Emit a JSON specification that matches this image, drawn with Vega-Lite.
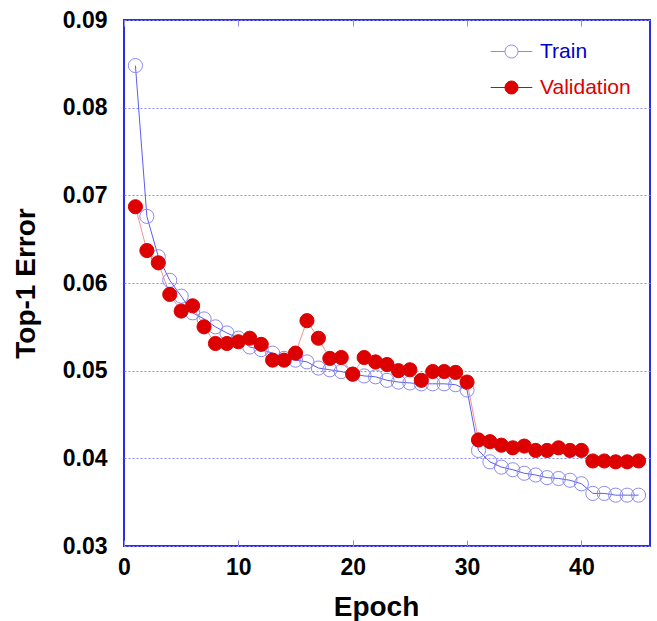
{
  "$schema": "https://vega.github.io/schema/vega-lite/v6.json",
  "autosize": {"type": "none"},
  "padding": {"left": 124, "top": 20, "right": 7, "bottom": 75},
  "width": 526,
  "height": 526,
  "background": "white",
  "config": {
    "view": {"stroke": "#2b2bee", "strokeWidth": 2},
    "font": "Liberation Sans"
  },
  "resolve": {"axis": {"x": "independent"}},
  "data": {"values": [
    {"epoch": 1, "series": "Train", "error": 0.0848},
    {"epoch": 2, "series": "Train", "error": 0.0676},
    {"epoch": 3, "series": "Train", "error": 0.0630},
    {"epoch": 4, "series": "Train", "error": 0.0603},
    {"epoch": 5, "series": "Train", "error": 0.0585},
    {"epoch": 6, "series": "Train", "error": 0.0566},
    {"epoch": 7, "series": "Train", "error": 0.0559},
    {"epoch": 8, "series": "Train", "error": 0.0550},
    {"epoch": 9, "series": "Train", "error": 0.0543},
    {"epoch": 10, "series": "Train", "error": 0.0537},
    {"epoch": 11, "series": "Train", "error": 0.0527},
    {"epoch": 12, "series": "Train", "error": 0.0524},
    {"epoch": 13, "series": "Train", "error": 0.0520},
    {"epoch": 14, "series": "Train", "error": 0.0514},
    {"epoch": 15, "series": "Train", "error": 0.0512},
    {"epoch": 16, "series": "Train", "error": 0.0510},
    {"epoch": 17, "series": "Train", "error": 0.0503},
    {"epoch": 18, "series": "Train", "error": 0.0501},
    {"epoch": 19, "series": "Train", "error": 0.0499},
    {"epoch": 20, "series": "Train", "error": 0.0496},
    {"epoch": 21, "series": "Train", "error": 0.0494},
    {"epoch": 22, "series": "Train", "error": 0.0493},
    {"epoch": 23, "series": "Train", "error": 0.0489},
    {"epoch": 24, "series": "Train", "error": 0.0487},
    {"epoch": 25, "series": "Train", "error": 0.0486},
    {"epoch": 26, "series": "Train", "error": 0.0485},
    {"epoch": 27, "series": "Train", "error": 0.0485},
    {"epoch": 28, "series": "Train", "error": 0.0485},
    {"epoch": 29, "series": "Train", "error": 0.0484},
    {"epoch": 30, "series": "Train", "error": 0.0478},
    {"epoch": 31, "series": "Train", "error": 0.0409},
    {"epoch": 32, "series": "Train", "error": 0.0396},
    {"epoch": 33, "series": "Train", "error": 0.0390},
    {"epoch": 34, "series": "Train", "error": 0.0387},
    {"epoch": 35, "series": "Train", "error": 0.0383},
    {"epoch": 36, "series": "Train", "error": 0.0381},
    {"epoch": 37, "series": "Train", "error": 0.0378},
    {"epoch": 38, "series": "Train", "error": 0.0377},
    {"epoch": 39, "series": "Train", "error": 0.0375},
    {"epoch": 40, "series": "Train", "error": 0.0371},
    {"epoch": 41, "series": "Train", "error": 0.0360},
    {"epoch": 42, "series": "Train", "error": 0.0360},
    {"epoch": 43, "series": "Train", "error": 0.0358},
    {"epoch": 44, "series": "Train", "error": 0.0358},
    {"epoch": 45, "series": "Train", "error": 0.0358},
    {"epoch": 1, "series": "Validation", "error": 0.0687},
    {"epoch": 2, "series": "Validation", "error": 0.0637},
    {"epoch": 3, "series": "Validation", "error": 0.0623},
    {"epoch": 4, "series": "Validation", "error": 0.0587},
    {"epoch": 5, "series": "Validation", "error": 0.0568},
    {"epoch": 6, "series": "Validation", "error": 0.0574},
    {"epoch": 7, "series": "Validation", "error": 0.0550},
    {"epoch": 8, "series": "Validation", "error": 0.0531},
    {"epoch": 9, "series": "Validation", "error": 0.0531},
    {"epoch": 10, "series": "Validation", "error": 0.0533},
    {"epoch": 11, "series": "Validation", "error": 0.0537},
    {"epoch": 12, "series": "Validation", "error": 0.0530},
    {"epoch": 13, "series": "Validation", "error": 0.0512},
    {"epoch": 14, "series": "Validation", "error": 0.0512},
    {"epoch": 15, "series": "Validation", "error": 0.0520},
    {"epoch": 16, "series": "Validation", "error": 0.0557},
    {"epoch": 17, "series": "Validation", "error": 0.0537},
    {"epoch": 18, "series": "Validation", "error": 0.0514},
    {"epoch": 19, "series": "Validation", "error": 0.0515},
    {"epoch": 20, "series": "Validation", "error": 0.0496},
    {"epoch": 21, "series": "Validation", "error": 0.0515},
    {"epoch": 22, "series": "Validation", "error": 0.0510},
    {"epoch": 23, "series": "Validation", "error": 0.0507},
    {"epoch": 24, "series": "Validation", "error": 0.0500},
    {"epoch": 25, "series": "Validation", "error": 0.0501},
    {"epoch": 26, "series": "Validation", "error": 0.0489},
    {"epoch": 27, "series": "Validation", "error": 0.0499},
    {"epoch": 28, "series": "Validation", "error": 0.0499},
    {"epoch": 29, "series": "Validation", "error": 0.0498},
    {"epoch": 30, "series": "Validation", "error": 0.0487},
    {"epoch": 31, "series": "Validation", "error": 0.0421},
    {"epoch": 32, "series": "Validation", "error": 0.0419},
    {"epoch": 33, "series": "Validation", "error": 0.0415},
    {"epoch": 34, "series": "Validation", "error": 0.0412},
    {"epoch": 35, "series": "Validation", "error": 0.0414},
    {"epoch": 36, "series": "Validation", "error": 0.0409},
    {"epoch": 37, "series": "Validation", "error": 0.0409},
    {"epoch": 38, "series": "Validation", "error": 0.0412},
    {"epoch": 39, "series": "Validation", "error": 0.0409},
    {"epoch": 40, "series": "Validation", "error": 0.0409},
    {"epoch": 41, "series": "Validation", "error": 0.0397},
    {"epoch": 42, "series": "Validation", "error": 0.0397},
    {"epoch": 43, "series": "Validation", "error": 0.0396},
    {"epoch": 44, "series": "Validation", "error": 0.0396},
    {"epoch": 45, "series": "Validation", "error": 0.0397}
  ]},
  "layer": [
    {
      "transform": [{"filter": "datum.series === 'Train'"}],
      "mark": {"type": "line", "strokeWidth": 1, "color": "#5c5cf0"},
      "encoding": {
        "x": {
          "field": "epoch", "type": "quantitative",
          "scale": {"domain": [0, 46], "nice": false, "zero": false},
          "axis": {
            "orient": "bottom", "values": [0, 10, 20, 30, 40], "grid": false, "domain": false,
            "offset": -6, "tickSize": 6, "tickColor": "#8a8af0", "tickWidth": 1,
            "labelFont": "Liberation Sans", "labelFontSize": 23, "labelFontWeight": "bold", "labelColor": "black",
            "labelPadding": 10, "labelFlush": false,
            "title": "Epoch", "titleFont": "Liberation Sans", "titleFontSize": 28, "titleFontWeight": "bold", "titleColor": "black",
            "titlePadding": 14, "titleX": 252
          }
        },
        "y": {
          "field": "error", "type": "quantitative",
          "scale": {"domain": [0.03, 0.09], "nice": false, "zero": false},
          "axis": {
            "orient": "left", "values": [0.03, 0.04, 0.05, 0.06, 0.07, 0.08, 0.09], "format": ".2f",
            "ticks": false, "domain": false, "grid": true, "gridColor": "#8a8af0", "gridDash": [2, 2], "gridWidth": 1,
            "labelFont": "Liberation Sans", "labelFontSize": 23, "labelFontWeight": "bold", "labelColor": "black",
            "labelPadding": 17, "labelFlush": false,
            "title": "Top-1 Error", "titleFont": "Liberation Sans", "titleFontSize": 28, "titleFontWeight": "bold", "titleColor": "black",
            "titlePadding": 22
          }
        }
      }
    },
    {
      "transform": [{"filter": "datum.series === 'Validation'"}],
      "mark": {"type": "line", "strokeWidth": 1, "color": "#f29494"},
      "encoding": {
        "x": {
          "field": "epoch", "type": "quantitative",
          "axis": {
            "orient": "top", "values": [0, 10, 20, 30, 40], "grid": false, "domain": false, "labels": false,
            "offset": -6, "tickSize": 6, "tickColor": "#8a8af0", "tickWidth": 1, "title": null
          }
        },
        "y": {"field": "error", "type": "quantitative"}
      }
    },
    {
      "mark": {"type": "point", "shape": "circle", "strokeWidth": 1, "opacity": 1, "size": 200},
      "encoding": {
        "x": {"field": "epoch", "type": "quantitative", "axis": null},
        "y": {"field": "error", "type": "quantitative"},
        "stroke": {
          "field": "series", "type": "nominal",
          "scale": {"domain": ["Train", "Validation"], "range": ["#8a8af0", "#dd0000"]},
          "legend": {
            "title": null, "orient": "none", "legendX": 377, "legendY": 21,
            "symbolType": "M -3.2 0 L -1 0 M 1 0 L 3.2 0 M 1 0 A 1 1 0 1 1 -1 0 A 1 1 0 1 1 1 0 Z",
            "symbolSize": 169, "symbolStrokeWidth": 1, "labelOffset": 18, "rowPadding": 14,
            "labelFont": "Liberation Sans", "labelFontSize": 21, "padding": 0,
            "labelColor": {"expr": "datum.label === 'Train' ? '#0000cc' : '#dd0000'"}
          }
        },
        "fill": {
          "field": "series", "type": "nominal",
          "scale": {"domain": ["Train", "Validation"], "range": ["transparent", "#dd0000"]},
          "legend": {
            "title": null, "orient": "none", "legendX": 377, "legendY": 21,
            "symbolType": "M -3.2 0 L -1 0 M 1 0 L 3.2 0 M 1 0 A 1 1 0 1 1 -1 0 A 1 1 0 1 1 1 0 Z",
            "symbolSize": 169, "symbolStrokeWidth": 1, "labelOffset": 18, "rowPadding": 14,
            "labelFont": "Liberation Sans", "labelFontSize": 21, "padding": 0,
            "labelColor": {"expr": "datum.label === 'Train' ? '#0000cc' : '#dd0000'"}
          }
        }
      }
    }
  ]
}
